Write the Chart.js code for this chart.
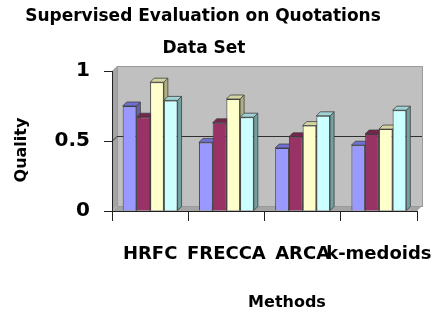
<!DOCTYPE html>
<html>
<head>
<meta charset="utf-8">
<script src="https://cdn.jsdelivr.net/npm/chart.js@4"></script>
<style>
  html, body { margin: 0; padding: 0; background: #fff; }
  #box { width: 439px; height: 315px; }
</style>
</head>
<body>
<div id="box"><canvas id="chart"></canvas></div>
<script>
/* ===== data ===== */
const methods = ['HRFC', 'FRECCA', 'ARCA', 'k-medoids'];
const series1 = [0.75, 0.49, 0.45, 0.47];
const series2 = [0.67, 0.63, 0.53, 0.55];
const series3 = [0.92, 0.80, 0.61, 0.585];
const series4 = [0.79, 0.67, 0.68, 0.72];
const yTicks  = [0, 0.5, 1];

/* ===== colours: front, top, side ===== */
const faces = [
  ['#9999FF', '#7070D0', '#6262B0'],
  ['#993366', '#74264C', '#5E1F40'],
  ['#FFFFCC', '#D4D4A0', '#B0B080'],
  ['#CCFFFF', '#A0D4D4', '#70A0A0']
];
const FONT = 'DejaVu Sans';

/* ===== 3D walls, grid lines and bar sides ===== */
const walls3d = {
  id: 'walls3d',
  beforeDatasetsDraw (chart) {
    const { ctx, chartArea: a, scales: { y } } = chart;
    const d = 5;
    ctx.save();
    // left wall
    ctx.fillStyle = '#A4A4A4';
    ctx.beginPath();
    ctx.moveTo(a.left, a.top); ctx.lineTo(a.left + d, a.top - d);
    ctx.lineTo(a.left + d, a.bottom - d); ctx.lineTo(a.left, a.bottom);
    ctx.closePath(); ctx.fill();
    // floor
    ctx.beginPath();
    ctx.moveTo(a.left, a.bottom); ctx.lineTo(a.left + d, a.bottom - d);
    ctx.lineTo(a.right + d, a.bottom - d); ctx.lineTo(a.right, a.bottom);
    ctx.closePath(); ctx.fill();
    // back wall
    ctx.fillStyle = '#C0C0C0';
    ctx.fillRect(a.left + d, a.top - d, a.right - a.left, a.bottom - a.top);
    ctx.strokeStyle = '#9A9A9A';
    ctx.lineWidth = 1;
    ctx.strokeRect(a.left + d + 0.5, a.top - d + 0.5, a.right - a.left, a.bottom - a.top);
    // grid lines
    ctx.strokeStyle = '#303030';
    yTicks.slice(1, -1).forEach(v => {
      const py = Math.round(y.getPixelForValue(v)) + 0.5;
      ctx.beginPath();
      ctx.moveTo(a.left, py); ctx.lineTo(a.left + d, py - d);
      ctx.lineTo(a.right + d, py - d);
      ctx.stroke();
    });
    // front edges
    ctx.strokeStyle = '#202020';
    ctx.beginPath();
    ctx.moveTo(a.left + 0.5, a.top); ctx.lineTo(a.left + 0.5, a.bottom + 0.5);
    ctx.lineTo(a.right, a.bottom + 0.5);
    ctx.stroke();

    // bar tops and sides, left to right
    const bx = 4, by = 4;
    const n = methods.length;
    for (let i = 0; i < n; i++) {
      chart.data.datasets.forEach((ds, k) => {
        const bar = chart.getDatasetMeta(k).data[i];
        const l = bar.x - bar.width / 2, r = bar.x + bar.width / 2;
        const t = bar.y, b = bar.base;
        ctx.strokeStyle = '#404040';
        ctx.lineWidth = 0.8;
        ctx.fillStyle = faces[k][2];
        ctx.beginPath();
        ctx.moveTo(r, t); ctx.lineTo(r + bx, t - by);
        ctx.lineTo(r + bx, b - by); ctx.lineTo(r, b);
        ctx.closePath(); ctx.fill(); ctx.stroke();
        ctx.fillStyle = faces[k][1];
        ctx.beginPath();
        ctx.moveTo(l, t); ctx.lineTo(l + bx, t - by);
        ctx.lineTo(r + bx, t - by); ctx.lineTo(r, t);
        ctx.closePath(); ctx.fill(); ctx.stroke();
      });
    }
    ctx.restore();
  },
  afterDraw (chart) {
    const { ctx } = chart;
    ctx.save();
    ctx.fillStyle = '#000';
    ctx.textAlign = 'center';
    ctx.textBaseline = 'middle';
    ctx.font = `bold 17px "${FONT}"`;
    ctx.fillText('Supervised Evaluation on Quotations', 203, 17);
    ctx.fillText('Data Set', 204, 49);
    ctx.font = `bold 16px "${FONT}"`;
    ctx.fillText('Methods', 287, 303);
    ctx.translate(22, 150);
    ctx.rotate(-Math.PI / 2);
    ctx.fillText('Quality', 0, 0);
    ctx.restore();
  }
};

/* ===== chart ===== */
const datasets = [series1, series2, series3, series4].map((data, k) => ({
  label: 'Series ' + (k + 1),
  data,
  backgroundColor: faces[k][0],
  borderColor: '#404040',
  borderWidth: 1,
  barPercentage: 1,
  categoryPercentage: 0.72
}));

new Chart(document.getElementById('chart'), {
  type: 'bar',
  data: { labels: methods, datasets },
  plugins: [walls3d],
  options: {
    responsive: true,
    maintainAspectRatio: false,
    animation: false,
    layout: { padding: { left: 0, top: 71, right: 22, bottom: 0 } },
    plugins: { legend: { display: false }, tooltip: { enabled: false } },
    scales: {
      x: {
        afterFit: s => { s.height = 104; s.paddingLeft = 0; s.paddingRight = 0; },
        border: { display: false },
        grid: { drawOnChartArea: false, tickLength: 10, color: '#202020', offset: true },
        ticks: {
          autoSkip: false, maxRotation: 0, minRotation: 0, padding: 23,
          color: '#000', font: { family: FONT, size: 18, weight: 'bold' }
        }
      },
      y: {
        min: 0, max: 1,
        afterFit: s => { s.width = 112; },
        afterBuildTicks: s => { s.ticks = yTicks.map(v => ({ value: v })); },
        border: { display: false },
        grid: { drawOnChartArea: false, tickLength: 8, color: '#202020' },
        ticks: {
          padding: 14, color: '#000',
          callback: v => String(v),
          font: { family: FONT, size: 20, weight: 'bold' }
        }
      }
    }
  }
});
</script>
</body>
</html>
